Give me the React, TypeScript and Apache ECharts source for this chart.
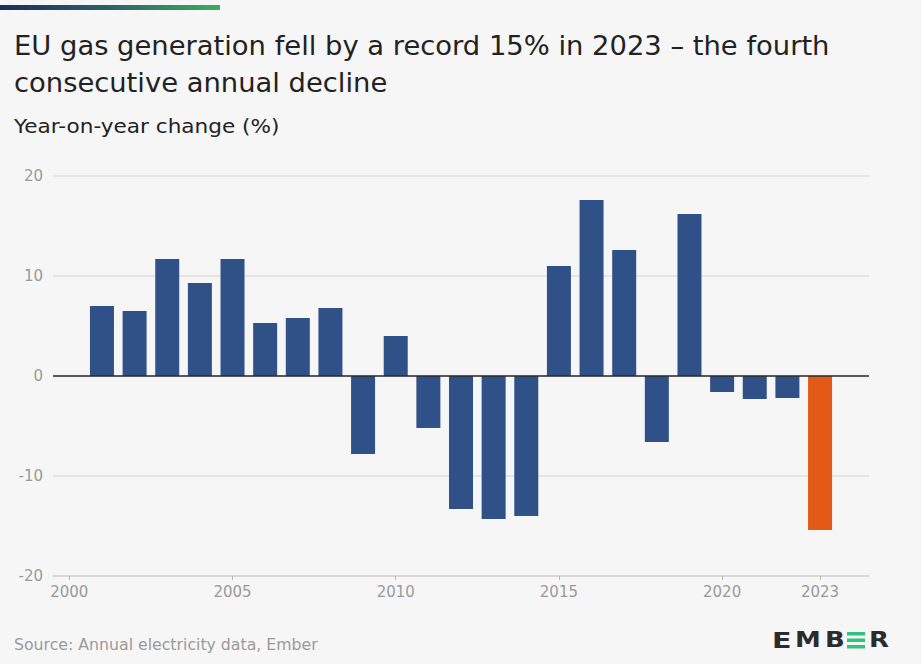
import React, { useEffect, useRef } from "react";
import * as echarts from "echarts";

const years: string[] = [
  "2000", "2001", "2002", "2003", "2004", "2005", "2006", "2007", "2008", "2009",
  "2010", "2011", "2012", "2013", "2014", "2015", "2016", "2017", "2018", "2019",
  "2020", "2021", "2022", "2023", "2024",
];
const changes: (number | null)[] = [
  null, 7.0, 6.5, 11.7, 9.3, 11.7, 5.3, 5.8, 6.8, -7.8,
  4.0, -5.2, -13.3, -14.3, -14.0, 11.0, 17.6, 12.6, -6.6, 16.2,
  -1.6, -2.3, -2.2, -15.4, null,
];
const highlightYear = "2023";
const labelYears: string[] = ["2000", "2005", "2010", "2015", "2020", "2023"];

const titleLine1 = "EU gas generation fell by a record 15% in 2023 – the fourth";
const titleLine2 = "consecutive annual decline";
const subtitle = "Year-on-year change (%)";
const source = "Source: Annual electricity data, Ember";

const BLUE = "#2f5187";
const ORANGE = "#e35a17";
const GREEN = "#2fc47d";
const FONT = "'DejaVu Sans'";

export default function App() {
  const ref = useRef<HTMLDivElement>(null);
  useEffect(() => {
    const chart = echarts.init(ref.current!, null, { renderer: "svg" });
    const showIdx = (i: number) => labelYears.includes(years[i]);
    const logoLetter = (ch: string, x: number, sx: number) => ({
      type: "text",
      x,
      y: 629,
      scaleX: sx,
      style: { text: ch, fill: "#2b2b2b", font: `bold 22px ${FONT}` },
    });
    const txt = (text: string, x: number, y: number, size: number, sx: number, fill: string) => ({
      type: "text",
      x,
      y,
      scaleX: sx,
      style: { text, fill, font: `${size}px ${FONT}` },
    });
    chart.setOption({
      animation: false,
      backgroundColor: "#f6f6f6",
      grid: { left: 53, right: 52, top: 176, bottom: 88 },
      xAxis: {
        type: "category",
        data: years,
        boundaryGap: true,
        position: "bottom",
        axisLine: { onZero: false, lineStyle: { color: "#d4d4d4", width: 1.5 } },
        axisTick: {
          show: true,
          alignWithLabel: true,
          interval: (i: number) => showIdx(i),
          length: 4,
          lineStyle: { color: "#b5b5b5" },
        },
        axisLabel: {
          interval: (i: number) => showIdx(i),
          color: "#9a9a9a",
          fontFamily: "DejaVu Sans",
          fontSize: 15,
          margin: 8,
        },
      },
      yAxis: {
        type: "value",
        min: -20,
        max: 20,
        interval: 10,
        axisLine: { show: false },
        axisTick: { show: false },
        splitLine: { lineStyle: { color: "#dedede", width: 1.5 } },
        axisLabel: { color: "#9a9a9a", fontFamily: "DejaVu Sans", fontSize: 15, margin: 10 },
      },
      series: [
        {
          type: "bar",
          barWidth: 24,
          data: changes.map((v, i) => ({
            value: v,
            itemStyle: { color: years[i] === highlightYear ? ORANGE : BLUE },
          })),
          markLine: {
            silent: true,
            symbol: "none",
            label: { show: false },
            lineStyle: { color: "#2a2a2a", width: 1.5, type: "solid" },
            data: [{ yAxis: 0 }],
          },
        },
      ],
      graphic: [
        {
          type: "rect",
          shape: { x: 0, y: 5, width: 220, height: 5 },
          style: {
            fill: new echarts.graphic.LinearGradient(0, 0, 1, 0, [
              { offset: 0, color: "#1f2b5c" },
              { offset: 0.5, color: "#2a6465" },
              { offset: 1, color: "#3aae62" },
            ]),
          },
        },
        txt(titleLine1, 14, 33, 26, 1.053, "#222222"),
        txt(titleLine2, 14, 70, 26, 1.053, "#222222"),
        txt(subtitle, 14, 116, 20, 1.08, "#222222"),
        txt(source, 14, 638, 15, 1.05, "#9a9a9a"),
        logoLetter("E", 772, 1.3),
        logoLetter("M", 795, 1.18),
        logoLetter("B", 825, 1.18),
        { type: "rect", shape: { x: 847, y: 632, width: 18, height: 3.5 }, style: { fill: GREEN } },
        { type: "rect", shape: { x: 847, y: 638.5, width: 18, height: 3.5 }, style: { fill: GREEN } },
        { type: "rect", shape: { x: 847, y: 645, width: 18, height: 3.5 }, style: { fill: GREEN } },
        logoLetter("R", 869, 1.18),
      ],
    });
    return () => chart.dispose();
  }, []);
  return (
    <div
      ref={ref}
      style={{ position: "fixed", left: 0, top: 0, width: 921, height: 664 }}
    />
  );
}
